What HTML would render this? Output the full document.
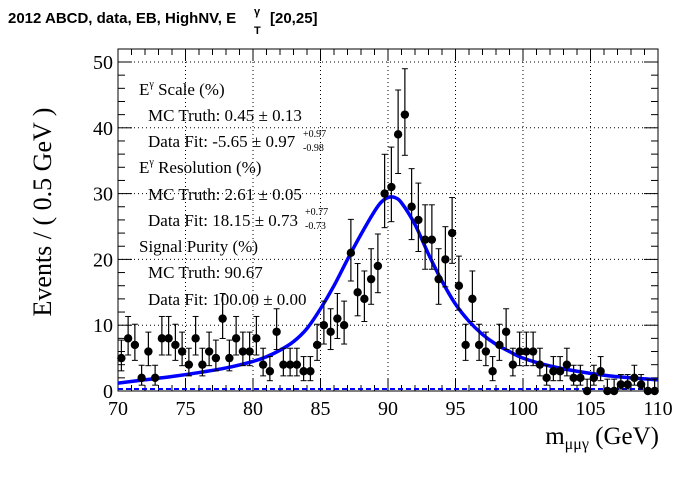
<!DOCTYPE html>
<html><head><meta charset="utf-8"><style>
body{margin:0;background:#fff;width:696px;height:472px;overflow:hidden}
svg text{font-family:"Liberation Serif",serif}
</style></head><body>
<svg id="c" width="696" height="472" xmlns="http://www.w3.org/2000/svg">
<text x="8" y="23" style="font-family:'Liberation Sans',sans-serif;font-weight:bold;font-size:15px">2012 ABCD, data, EB, HighNV, E</text>
<text x="254" y="15" style="font-family:'Liberation Sans',sans-serif;font-weight:bold;font-size:11px">γ</text>
<text x="254" y="34" style="font-family:'Liberation Sans',sans-serif;font-weight:bold;font-size:11px">T</text>
<text x="270" y="23" style="font-family:'Liberation Sans',sans-serif;font-weight:bold;font-size:15px">[20,25]</text>
<text transform="translate(51,212) rotate(-90)" text-anchor="middle" font-size="26">Events / ( 0.5 GeV )</text>
<text x="659" y="444" text-anchor="end" font-size="25">m<tspan font-size="16" dy="5">μμγ</tspan><tspan dy="-5"> (GeV)</tspan></text>
<g id="g"></g>
<g font-size="17">
<text x="139" y="95">E<tspan font-size="10" dy="-8">γ</tspan><tspan dy="8"> Scale (%)</tspan></text>
<text x="148" y="121">MC Truth: 0.45 ± 0.13</text>
<text x="148" y="147">Data Fit: -5.65 ± 0.97</text>
<text x="303" y="137" font-size="10">+0.97</text><text x="303" y="151" font-size="10">-0.98</text>
<text x="139" y="173">E<tspan font-size="10" dy="-8">γ</tspan><tspan dy="8"> Resolution (%)</tspan></text>
<text x="148" y="200">MC Truth: 2.61 ± 0.05</text>
<text x="148" y="226">Data Fit: 18.15 ± 0.73</text>
<text x="305" y="215" font-size="10">+0.77</text><text x="305" y="229" font-size="10">-0.73</text>
<text x="139" y="252">Signal Purity (%)</text>
<text x="148" y="278">MC Truth: 90.67</text>
<text x="148" y="305">Data Fit: 100.00 ± 0.00</text>
</g>
</svg>
<script>
const counts=[5,8,7,2,6,2,8,8,7,6,4,8,4,6,5,11,5,8,6,6,8,4,3,9,4,4,4,3,3,7,10,9,11,10,21,15,14,17,19,30,31,39,42,28,26,23,23,17,20,24,16,7,14,7,6,3,7,9,4,6,6,6,4,2,3,3,4,2,2,0,2,3,0,0,1,1,2,1,0,0];
const curveX=[70,72,74,76,78,80,81,82,83,84,85,86,87,88,89,89.5,90,90.5,91,92,93,94,95,96,97,98,99,100,102,104,106,108,110];
const curveY=[1.2,1.7,2.2,2.8,3.5,4.5,5.2,6.2,7.5,9.5,12.5,16,20,23.8,27.3,28.7,29.4,29.4,28.6,25.3,20.8,16.7,13.2,10.6,8.6,7.1,6,5,3.8,3,2.4,2,1.7];
const xTicks=[70,75,80,85,90,95,100,105,110];
const yTicks=[0,10,20,30,40,50];
const X0=118,X1=658,Y0=391,Y1=49;
const sx=m=>X0+(m-70)*(X1-X0)/40, sy=v=>Y0-v*(Y0-62)/50;
const NS="http://www.w3.org/2000/svg",g=document.getElementById('g');
function mk(t,a){const e=document.createElementNS(NS,t);for(const k in a)e.setAttribute(k,a[k]);g.appendChild(e);return e;}
xTicks.slice(1,-1).forEach(t=>{const e=mk('line',{x1:sx(t),x2:sx(t),y1:Y0,y2:Y1,stroke:'#000','stroke-dasharray':'1,3','stroke-width':1});

});
yTicks.slice(1).forEach(t=>{const e=mk('line',{x1:X0,x2:X1,y1:sy(t),y2:sy(t),stroke:'#000','stroke-dasharray':'1,3','stroke-width':1});

});
const fr=mk('rect',{x:X0,y:Y1,width:X1-X0,height:Y0-Y1,fill:'none',stroke:'#000','stroke-width':1});


for(let m=70;m<=110;m+=1){const L=(m%5==0)?12:6;
mk('line',{x1:sx(m),x2:sx(m),y1:Y0,y2:Y0-L,stroke:'#000'});mk('line',{x1:sx(m),x2:sx(m),y1:Y1,y2:Y1+L,stroke:'#000'});}
for(let v=0;v<=52;v+=2){if(sy(v)<Y1)break;const L=(v%10==0)?14:7;
mk('line',{x1:X0,x2:X0+L,y1:sy(v),y2:sy(v),stroke:'#000'});mk('line',{x1:X1,x2:X1-L,y1:sy(v),y2:sy(v),stroke:'#000'});}
xTicks.forEach(t=>{const e=mk('text',{x:sx(t),y:Y0+24,'text-anchor':'middle','font-size':20});e.textContent=t;

});
yTicks.forEach(t=>{const e=mk('text',{x:X0-5,y:sy(t)+7,'text-anchor':'end','font-size':20});e.textContent=t;

});
const bg=mk('line',{x1:X0,x2:X1,y1:Y0-2,y2:Y0-2,stroke:'#0000ff','stroke-width':2,'stroke-dasharray':'5,3'});


// smooth curve (Catmull-Rom)
const P=curveX.map((m,i)=>[sx(m),sy(curveY[i])]);
let d='M'+P[0][0]+','+P[0][1];
for(let i=0;i<P.length-1;i++){const p0=P[Math.max(0,i-1)],p1=P[i],p2=P[i+1],p3=P[Math.min(P.length-1,i+2)];
d+='C'+(p1[0]+(p2[0]-p0[0])/6)+','+(p1[1]+(p2[1]-p0[1])/6)+' '+(p2[0]-(p3[0]-p1[0])/6)+','+(p2[1]-(p3[1]-p1[1])/6)+' '+p2[0]+','+p2[1];}
const p=mk('path',{d:d,fill:'none',stroke:'#0000ff','stroke-width':3.5,'stroke-linejoin':'round'});


counts.forEach((n,i)=>{const m=70.25+i*0.5,x=sx(m),y=sy(n);
if(n>0){const e=Math.sqrt(n)+0.5;const lo=Math.max(0,n-Math.sqrt(n)+0.3);
const l=mk('line',{x1:x,x2:x,y1:sy(n+e),y2:sy(lo),stroke:'#000','stroke-width':1.2});


mk('line',{x1:x-3,x2:x+3,y1:sy(n+e),y2:sy(n+e),stroke:'#000'});mk('line',{x1:x-3,x2:x+3,y1:sy(lo),y2:sy(lo),stroke:'#000'});}
else{mk('line',{x1:x,x2:x,y1:sy(1.8),y2:Y0,stroke:'#000','stroke-width':1.2});mk('line',{x1:x-3,x2:x+3,y1:sy(1.8),y2:sy(1.8),stroke:'#000'});}
const c=mk('circle',{cx:x,cy:y,r:4.2,fill:'#000'});

});
</script>
</body></html>
